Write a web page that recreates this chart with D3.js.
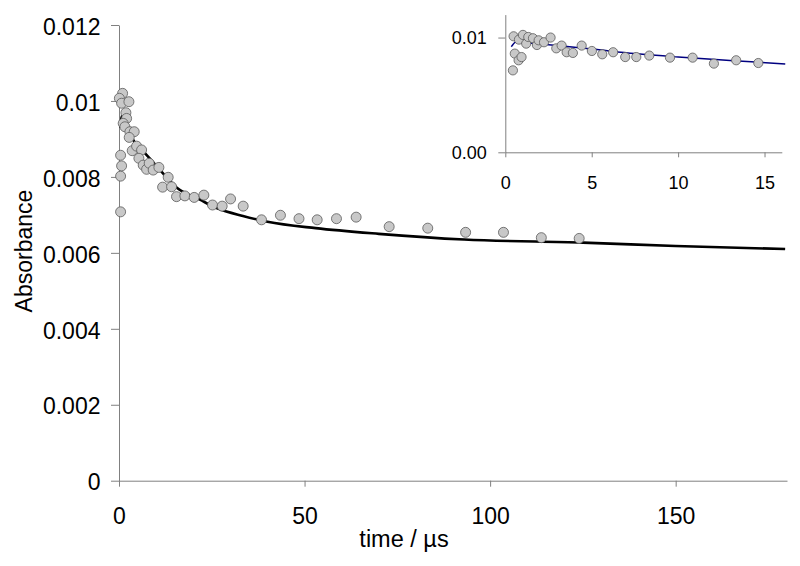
<!DOCTYPE html>
<html>
<head>
<meta charset="utf-8">
<script src="https://cdn.jsdelivr.net/npm/d3@7"></script>
<style>
  html, body { margin: 0; padding: 0; background: #fff; }
  svg { display: block; font-family: "Liberation Sans", Arial, sans-serif; }
</style>
</head>
<body>
<svg id="chart" width="800" height="566"></svg>
<script>
// ---- main panel data ----
const mainTime = [0.43, 0.43, 0.70, 0.43, 0.97, 0.1, 0.7, 2.67, 1.86, 2.05, 1.13, 1.59, 2.94, 4.1, 2.75, 3.56, 4.74, 6.09, 5.36, 6.52, 7.44, 8.14, 9.21, 10.75, 13.25, 11.75, 14.17, 15.5, 17.75, 20.26, 22.87, 25.2, 27.8, 30.06, 33.46, 38.4, 43.5, 48.5, 53.4, 58.6, 63.9, 72.8, 83.2, 93.4, 103.6, 113.8, 124.0];
const mainAbs = [0.00708, 0.00802, 0.00829, 0.00857, 0.0102, 0.01007, 0.00994, 0.00998, 0.00969, 0.00954, 0.00941, 0.00932, 0.00919, 0.00919, 0.00904, 0.00869, 0.00881, 0.00871, 0.00849, 0.00831, 0.0082, 0.00836, 0.00818, 0.00825, 0.00799, 0.00773, 0.00774, 0.00748, 0.0075, 0.00746, 0.00752, 0.00726, 0.00723, 0.00742, 0.00723, 0.00687, 0.00699, 0.0069, 0.00687, 0.0069, 0.00694, 0.00669, 0.00665, 0.00654, 0.00654, 0.0064, 0.00638];
const mainFitTime = [0.35, 0.7, 1.5, 3, 3.85, 6.5, 10.6, 15.5, 21.8, 26.3, 33.4, 40, 53, 70, 93, 125, 150, 179.5];
const mainFitAbs = [0.0093, 0.0096, 0.0095, 0.0092, 0.00897, 0.00868, 0.00823, 0.00772, 0.0074, 0.00718, 0.00697, 0.00682, 0.00665, 0.0065, 0.00635, 0.00627, 0.00618, 0.0061];
const mainXTicks = [0, 50, 100, 150];
const mainXTickLabels = ["0", "50", "100", "150"];
const mainYTicks = [0, 0.002, 0.004, 0.006, 0.008, 0.01, 0.012];
const mainYTickLabels = ["0", "0.002", "0.004", "0.006", "0.008", "0.01", "0.012"];
const xTitle = "time / µs";
const yTitle = "Absorbance";

// ---- inset data ----
const insetTime = [0.44, 0.48, 0.55, 0.77, 0.79, 0.94, 1.02, 1.21, 1.33, 1.60, 1.83, 1.93, 2.24, 2.62, 2.95, 3.26, 3.55, 3.91, 4.42, 5.01, 5.61, 6.24, 6.94, 7.58, 8.33, 9.53, 10.84, 12.07, 13.36, 14.64];
const insetAbs = [0.00714, 0.01011, 0.0086, 0.00802, 0.00982, 0.0083, 0.01023, 0.00947, 0.01005, 0.00994, 0.00935, 0.00976, 0.00959, 0.0100, 0.00906, 0.0093, 0.00872, 0.00866, 0.0093, 0.00883, 0.00854, 0.00872, 0.0083, 0.0083, 0.00843, 0.00825, 0.00825, 0.00773, 0.00802, 0.00778];
const insetFitTime = [0.35, 0.6, 1.5, 3, 5, 7.5, 10, 13, 16.2];
const insetFitAbs = [0.0092, 0.0096, 0.0095, 0.0093, 0.0090, 0.0086, 0.0083, 0.0080, 0.0077];
const insetXTicks = [0, 5, 10, 15];
const insetXTickLabels = ["0", "5", "10", "15"];
const insetYTicks = [0, 0.01];
const insetYTickLabels = ["0.00", "0.01"];

const svg = d3.select("#chart");
const axisColor = "#808080";

function styleAxis(g, fontSize) {
  g.select(".domain").attr("stroke", axisColor).attr("stroke-width", 1);
  g.selectAll(".tick line").attr("stroke", axisColor).attr("stroke-width", 1);
  g.selectAll(".tick text").attr("fill", "#000").attr("font-size", fontSize)
    .attr("font-family", "'Liberation Sans', Arial, sans-serif");
}

// ---- main panel ----
const x = d3.scaleLinear().domain([0, 180]).range([119, 787]);
const y = d3.scaleLinear().domain([0, 0.012]).range([480.7, 25]);

const gx = svg.append("g").attr("transform", "translate(0,480.7)")
  .call(d3.axisBottom(x).tickValues(mainXTicks)
    .tickFormat((d, i) => mainXTickLabels[i]).tickSizeInner(6).tickSizeOuter(0).tickPadding(21));
styleAxis(gx, 23);

const gy = svg.append("g").attr("transform", "translate(119,0)")
  .call(d3.axisLeft(y).tickValues(mainYTicks)
    .tickFormat((d, i) => mainYTickLabels[i]).tickSizeInner(8).tickSizeOuter(0).tickPadding(10.5));
styleAxis(gy, 23);
gy.selectAll(".tick text").attr("dy", "0.40em");

svg.append("text").attr("x", 404).attr("y", 546.7).attr("text-anchor", "middle")
  .attr("font-size", 23.5).text(xTitle);
svg.append("text").attr("transform", "translate(31.5,251) rotate(-90)")
  .attr("text-anchor", "middle").attr("font-size", 23).text(yTitle);

const mainFit = mainFitTime.map((t, i) => [t, mainFitAbs[i]]);
svg.append("path").datum(mainFit)
  .attr("fill", "none").attr("stroke", "#000").attr("stroke-width", 2.6)
  .attr("d", d3.line().x(d => x(d[0])).y(d => y(d[1])).curve(d3.curveMonotoneX));

svg.append("g").selectAll("circle").data(mainTime.map((t, i) => [t, mainAbs[i]]))
  .join("circle")
  .attr("cx", d => x(d[0])).attr("cy", d => y(d[1])).attr("r", 5)
  .attr("fill", "#c8c8c8").attr("stroke", "#5a5a5a").attr("stroke-width", 0.8);

// ---- inset ----
const ix = d3.scaleLinear().domain([0, 16]).range([505.3, 781.8]);
const iy = d3.scaleLinear().domain([0, 0.012]).range([152.3, 14.6]);

const igx = svg.append("g").attr("transform", "translate(0,152.3)")
  .call(d3.axisBottom(ix).tickValues(insetXTicks)
    .tickFormat((d, i) => insetXTickLabels[i]).tickSizeInner(5).tickSizeOuter(0).tickPadding(18.5));
styleAxis(igx, 18);

const igy = svg.append("g").attr("transform", "translate(505.3,0)")
  .call(d3.axisLeft(iy).tickValues(insetYTicks)
    .tickFormat((d, i) => insetYTickLabels[i]).tickSizeInner(7).tickSizeOuter(0).tickPadding(11.5));
styleAxis(igy, 18);

const insetFit = insetFitTime.map((t, i) => [t, insetFitAbs[i]]);
svg.append("path").datum(insetFit)
  .attr("fill", "none").attr("stroke", "#000080").attr("stroke-width", 1.5)
  .attr("d", d3.line().x(d => ix(d[0])).y(d => iy(d[1])).curve(d3.curveMonotoneX));

svg.append("g").selectAll("circle").data(insetTime.map((t, i) => [t, insetAbs[i]]))
  .join("circle")
  .attr("cx", d => ix(d[0])).attr("cy", d => iy(d[1])).attr("r", 4.6)
  .attr("fill", "#c8c8c8").attr("stroke", "#5a5a5a").attr("stroke-width", 0.8);
</script>
</body>
</html>
